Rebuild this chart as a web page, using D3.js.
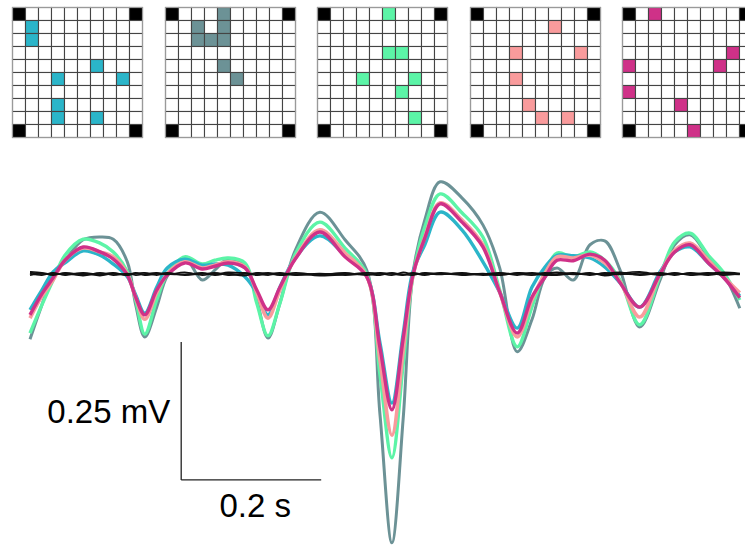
<!DOCTYPE html>
<html>
<head>
<meta charset="utf-8">
<script src="https://cdn.jsdelivr.net/npm/d3@7"></script>
<style>
  body { margin: 0; background: #fff; }
  text { font-family: "Liberation Sans", Arial, sans-serif; }
</style>
</head>
<body>
<div id="chart"></div>
<script>

// electrode grids: [col,row] of highlighted sites, one list per panel
var gridSize = 10;
var cornerCells = [[0,0],[9,0],[0,9],[9,9]];
var gridColors = ["#2bb5c9", "#6c9296", "#5cf4a7", "#f99b9c", "#cf3188"];
var gridCells = [
  [[1,1],[1,2],[6,4],[3,5],[8,5],[3,7],[3,8],[6,8]],
  [[4,0],[4,1],[4,2],[2,1],[2,2],[3,2],[4,4],[5,5]],
  [[5,0],[5,3],[6,3],[3,5],[7,5],[6,6],[7,8]],
  [[6,1],[3,3],[8,3],[3,5],[4,7],[5,8],[7,8]],
  [[2,0],[8,3],[0,4],[7,4],[0,6],[4,7],[5,9]]
];

// time (ms) shared by all traces
var timeMs = [0,17,33,50,76,100,119,139,151,164,181,196,221,246,264,283,307,324,340,357,
  379,414,450,481,500,517,533,547,564,586,617,647,671,696,717,736,753,776,800,821,
  843,871,900,921,943,969,990,1014];

// averaged traces (mV)
var traceCyan = [-0.065,-0.029,0.004,0.020,0.042,0.034,0.018,-0.005,-0.038,-0.071,-0.024,0.011,0.027,0.016,0.018,0.016,-0.005,-0.034,-0.074,-0.024,
  0.029,0.069,0.034,-0.004,-0.125,-0.234,-0.109,0.004,0.053,0.112,0.080,0.022,-0.033,-0.098,-0.024,0.013,0.034,0.033,0.029,0.013,
  -0.016,-0.060,0.004,0.040,0.049,0.020,-0.005,-0.040];
var traceGray = [-0.118,-0.056,0.000,0.025,0.062,0.067,0.063,0.022,-0.056,-0.114,-0.060,-0.004,0.029,-0.011,0.007,0.027,0.016,-0.047,-0.116,-0.053,
  0.043,0.112,0.062,0.007,-0.255,-0.487,-0.264,0.000,0.098,0.167,0.138,0.089,0.011,-0.141,-0.083,-0.005,0.011,-0.011,0.053,0.060,
  0.007,-0.096,-0.011,0.053,0.071,0.031,0.002,-0.062];
var traceGreen = [-0.107,-0.056,-0.011,0.034,0.063,0.056,0.040,0.004,-0.047,-0.109,-0.047,0.000,0.031,0.018,0.025,0.029,0.020,-0.053,-0.112,-0.053,
  0.036,0.094,0.047,0.000,-0.183,-0.333,-0.165,-0.004,0.085,0.145,0.111,0.067,-0.029,-0.132,-0.060,0.004,0.038,0.031,0.040,0.025,
  -0.011,-0.092,-0.004,0.058,0.074,0.034,0.004,-0.047];
var tracePink = [-0.080,-0.040,-0.011,0.025,0.047,0.040,0.031,0.000,-0.043,-0.082,-0.034,0.000,0.022,0.011,0.016,0.022,0.013,-0.034,-0.080,-0.029,
  0.029,0.080,0.038,-0.004,-0.156,-0.292,-0.141,-0.004,0.067,0.129,0.098,0.053,-0.033,-0.114,-0.047,0.002,0.031,0.029,0.034,0.020,
  -0.014,-0.078,0.000,0.043,0.056,0.025,-0.004,-0.034];
var traceMagenta = [-0.074,-0.036,-0.007,0.025,0.049,0.040,0.027,-0.002,-0.042,-0.074,-0.029,-0.002,0.020,0.009,0.014,0.020,0.011,-0.029,-0.065,-0.024,
  0.027,0.076,0.031,-0.005,-0.134,-0.246,-0.118,-0.002,0.065,0.127,0.094,0.049,-0.033,-0.107,-0.042,-0.005,0.025,0.024,0.036,0.025,
  -0.016,-0.060,0.000,0.040,0.053,0.020,-0.005,-0.043];

// baseline (shuffled) traces, mV
var noiseA = [0.004,0.002,-0.001,0.001,-0.003,0.002,-0.002,0.001,-0.002,0.000,0.002,-0.001,0.003,-0.002,0.001,0.000,-0.003,0.002,0.001,-0.002,
  0.000,-0.003,-0.001,0.002,0.001,-0.002,0.003,0.000,0.001,-0.001,0.002,-0.002,0.001,0.000,-0.002,0.001,0.003,-0.001,0.002,-0.003,
  0.001,0.004,-0.001,0.002,-0.002,0.001,0.003,0.001];
var noiseB = [0.001,-0.002,0.002,-0.002,0.001,-0.003,0.001,-0.001,0.002,-0.002,0.000,0.002,-0.002,0.001,-0.001,0.003,0.001,-0.002,0.000,0.002,
  -0.001,0.001,-0.002,0.000,-0.002,0.002,-0.001,0.001,-0.002,0.002,-0.001,0.001,-0.002,0.002,0.001,-0.002,0.000,0.002,-0.001,0.001,
  0.003,-0.002,0.001,-0.002,0.002,-0.001,0.000,-0.001];
var noiseC = [-0.002,0.001,-0.002,0.002,-0.001,0.000,0.002,-0.002,0.001,0.002,-0.002,0.001,-0.001,0.002,-0.002,0.001,0.002,-0.001,0.002,-0.001,
  0.002,-0.001,0.002,-0.002,0.002,0.000,-0.002,0.002,-0.001,0.001,-0.002,0.000,0.002,-0.002,0.002,-0.001,-0.002,0.001,-0.002,0.002,
  -0.001,0.002,-0.002,0.001,0.000,0.002,-0.002,0.001];
var noiseD = [0.003,0.000,0.001,-0.001,0.002,-0.001,0.000,-0.002,0.001,-0.001,0.001,0.000,-0.001,0.000,0.002,-0.002,0.000,0.001,-0.002,0.001,
  -0.002,0.000,0.001,-0.001,0.000,0.001,-0.001,-0.002,0.002,0.000,0.001,-0.001,-0.002,0.001,0.000,0.002,-0.001,0.000,0.001,-0.001,
  0.000,-0.001,0.002,-0.001,0.001,-0.002,0.001,0.000];

// scale bars
var barVolt = 0.25, barTime = 200;   // mV, ms
var barOrigin = [216, -0.373];       // ms, mV

var width = 745, height = 545;

var svg = d3.select("#chart")
  .append("svg")
  .attr("width", width)
  .attr("height", height);

// ---- grids ----
var cell = 13;
var gridTop = 7;
var gridX = d3.scaleLinear().domain([0, 4]).range([12, 622]);

gridCells.forEach(function(cells, i){
  var g = svg.append("g")
    .attr("transform", "translate(" + Math.round(gridX(i)) + "," + gridTop + ")");

  var all = [];
  for (var r = 0; r < gridSize; r++) {
    for (var c = 0; c < gridSize; c++) {
      all.push([c, r]);
    }
  }
  var key = function(d){ return d[0] + "_" + d[1]; };
  var on = new Set(cells.map(key));
  var corners = new Set(cornerCells.map(key));

  g.selectAll("rect.cell")
    .data(all)
    .enter()
    .append("rect")
    .attr("class", "cell")
    .attr("x", function(d){ return d[0] * cell + 0.5; })
    .attr("y", function(d){ return d[1] * cell + 0.5; })
    .attr("width", cell)
    .attr("height", cell)
    .attr("fill", function(d){
      if (corners.has(key(d))) return "#000";
      if (on.has(key(d))) return gridColors[i];
      return "#fff";
    })
    .attr("stroke", "#444")
    .attr("stroke-width", 1.1);

  g.append("rect")
    .attr("x", 0.5)
    .attr("y", 0.5)
    .attr("width", cell * gridSize)
    .attr("height", cell * gridSize)
    .attr("fill", "none")
    .attr("stroke", "#9a9a9a")
    .attr("stroke-width", 1.2);
});

// ---- traces ----
var x = d3.scaleLinear().domain([0, 1000]).range([30, 730]);
var y = d3.scaleLinear().domain([0, 0.25]).range([274, 136]);

var line = d3.line()
  .x(function(d){ return x(d[0]); })
  .y(function(d){ return y(d[1]); })
  .curve(d3.curveCatmullRom.alpha(0.5));

function pairs(vals){
  return vals.map(function(v, i){ return [timeMs[i], v]; });
}

var traces = [
  {vals: traceGray,    color: "#6c9296", w: 3},
  {vals: traceGreen,   color: "#5cf4a7", w: 3.4},
  {vals: traceCyan,    color: "#2bb5c9", w: 3.4},
  {vals: tracePink,    color: "#f99b9c", w: 3.6},
  {vals: traceMagenta, color: "#cf3188", w: 3.4}
];

traces.forEach(function(t){
  svg.append("path")
    .attr("d", line(pairs(t.vals)))
    .attr("fill", "none")
    .attr("stroke", t.color)
    .attr("stroke-width", t.w)
    .attr("stroke-linejoin", "round");
});

[noiseA, noiseB, noiseC, noiseD].forEach(function(n){
  svg.append("path")
    .attr("d", line(pairs(n)))
    .attr("fill", "none")
    .attr("stroke", "#111")
    .attr("stroke-width", 1.6);
});

// ---- scale bars ----
var x0 = x(barOrigin[0]), y0 = y(barOrigin[1]);

svg.append("line")
  .attr("x1", x0).attr("x2", x0)
  .attr("y1", y0).attr("y2", y(barOrigin[1] + barVolt))
  .attr("stroke", "#222")
  .attr("stroke-width", 1.3);

svg.append("line")
  .attr("x1", x0).attr("x2", x(barOrigin[0] + barTime))
  .attr("y1", y0).attr("y2", y0)
  .attr("stroke", "#222")
  .attr("stroke-width", 1.3);

svg.append("text")
  .attr("x", x0 - 11)
  .attr("y", (y0 + y(barOrigin[1] + barVolt)) / 2 + 12)
  .attr("text-anchor", "end")
  .attr("font-size", 33)
  .attr("fill", "#000")
  .text(barVolt + " mV");

svg.append("text")
  .attr("x", (x0 + x(barOrigin[0] + barTime)) / 2 + 4)
  .attr("y", y0 + 37)
  .attr("text-anchor", "middle")
  .attr("font-size", 33)
  .attr("fill", "#000")
  .text(barTime / 1000 + " s");

</script>
</body>
</html>
